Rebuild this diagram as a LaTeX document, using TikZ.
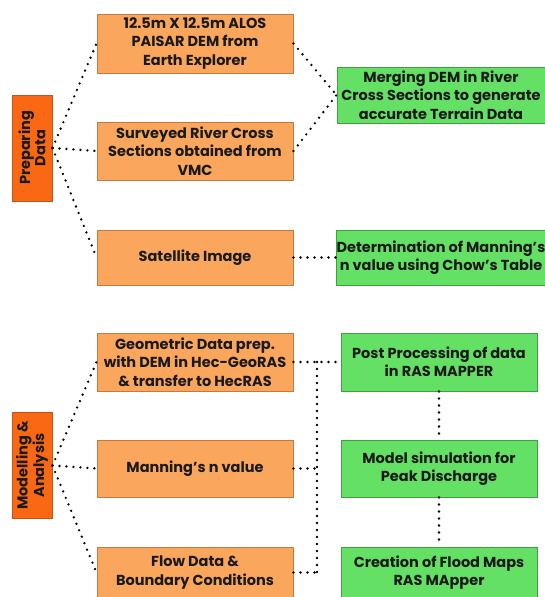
\documentclass[tikz,border=0pt]{standalone}
\usepackage{fontspec}
\setmainfont{Poppins}
\definecolor{olight}{RGB}{250,166,92}
\definecolor{oborder}{RGB}{196,122,62}
\definecolor{odark}{RGB}{250,104,20}
\definecolor{odborder}{RGB}{190,84,30}
\definecolor{glight}{RGB}{100,224,100}
\definecolor{gborder}{RGB}{62,160,62}
\definecolor{txt}{RGB}{26,26,26}
\begin{document}
\begin{tikzpicture}[x=1pt,y=-1pt,
  box/.style={draw=oborder, fill=olight, line width=1pt, minimum width=196pt, align=center, inner sep=0pt, text=txt, font=\fontsize{14.5}{18.3}\selectfont\bfseries},
  gbox/.style={box, draw=gborder, fill=glight},
  side/.style={draw=odborder, fill=odark, line width=1pt, rotate=90, minimum width=106pt, minimum height=40pt, align=center, inner sep=0pt, text=txt, font=\fontsize{14.5}{15}\selectfont\bfseries},
  dotline/.style={line width=2.6pt, line cap=round, dash pattern=on 0pt off 7pt, draw=black}
]
\useasboundingbox (0,0) rectangle (545,597);
% top section
\node[side] (prep) at (32,148) {Preparing\\Data};
\node[box, minimum height=59pt] (b1) at (195,43.5) {12.5m X 12.5m ALOS\\PAISAR DEM from\\Earth Explorer};
\node[box, minimum height=58pt] (b2) at (195,151) {Surveyed River Cross\\Sections obtained from\\VMC};
\node[box, minimum height=55pt] (b3) at (195,257.5) {Satellite Image};
\node[gbox, minimum width=208pt, minimum height=56pt] (g1) at (441,95) {Merging DEM in River\\Cross Sections to generate\\accurate Terrain Data};
\node[gbox, minimum width=208pt, minimum height=55pt] (g2) at (441,257.5) {Determination of Manning's\\n value using Chow's Table};
% bottom section
\node[side] (mod) at (32,465.5) {Modelling \&\\Analysis};
\node[box, minimum height=58pt] (b4) at (195,362) {Geometric Data prep.\\with DEM in Hec-GeoRAS\\\& transfer to HecRAS};
\node[box, minimum height=57pt] (b5) at (195,468.5) {Manning's n value};
\node[box, minimum height=51pt] (b6) at (195,572.5) {Flow Data \&\\Boundary Conditions};
\node[gbox, minimum height=58pt] (g3) at (439,362) {Post Processing of data\\in RAS MAPPER};
\node[gbox, minimum height=57pt] (g4) at (439,468.5) {Model simulation for\\Peak Discharge};
\node[gbox, minimum height=51pt] (g5) at (439,572.5) {Creation of Flood Maps\\RAS MApper};
\coordinate (j1) at (317,362);
\coordinate (j2) at (317,468.5);
\coordinate (j3) at (317,572.5);
% connectors
\draw[dotline] (prep.south) -- (b1.west);
\draw[dotline] (prep.south) -- (b2.west);
\draw[dotline] (prep.south) -- (b3.west);
\draw[dotline] (b1.east) -- (g1.west);
\draw[dotline] (b2.east) -- (g1.west);
\draw[dotline] (b3.east) -- (g2.west);
\draw[dotline] (mod.south) -- (b4.west);
\draw[dotline] (mod.south) -- (b5.west);
\draw[dotline] (mod.south) -- (b6.west);
\draw[dotline] (b4.east) -- (g3.west);
\draw[dotline] (j1) -- (j3);
\draw[dotline] (b5.east) -- (j2);
\draw[dotline] (b6.east) -- (j3);
\draw[dotline] (g3.south) -- (g4.north);
\draw[dotline] (g4.south) -- (g5.north);
\end{tikzpicture}
\end{document}
